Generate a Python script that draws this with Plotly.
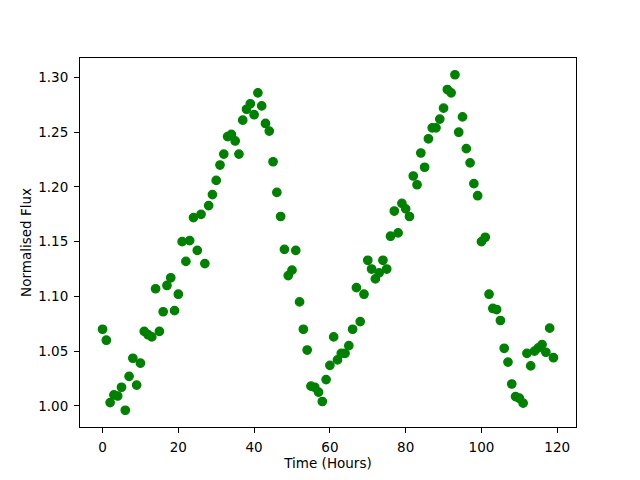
import plotly.graph_objects as go

time_hours = list(range(120))
flux = [
    1.070, 1.060, 1.003, 1.010, 1.009, 1.017, 0.996, 1.027, 1.0435, 1.019,
    1.039, 1.068, 1.065, 1.063, 1.107, 1.068, 1.086, 1.110, 1.117, 1.087,
    1.102, 1.150, 1.132, 1.151, 1.172, 1.142, 1.175, 1.130, 1.183, 1.193,
    1.206, 1.220, 1.230, 1.246, 1.248, 1.242, 1.230, 1.261, 1.271, 1.276,
    1.266, 1.286, 1.274, 1.258, 1.251, 1.223, 1.195, 1.173, 1.143, 1.119,
    1.124, 1.142, 1.095, 1.070, 1.051, 1.018, 1.017, 1.0125, 1.004, 1.024,
    1.037, 1.063, 1.042, 1.048, 1.048, 1.055, 1.070, 1.108, 1.077, 1.102,
    1.133, 1.125, 1.116, 1.1215, 1.133, 1.125, 1.155, 1.178, 1.158, 1.185,
    1.180, 1.173, 1.210, 1.202, 1.231, 1.218, 1.244, 1.254, 1.254, 1.262,
    1.272, 1.289, 1.286, 1.3025, 1.250, 1.264, 1.235, 1.222, 1.203, 1.192,
    1.150, 1.154, 1.102, 1.089, 1.088, 1.078, 1.0526, 1.040, 1.020, 1.0085,
    1.007, 1.0025, 1.048, 1.0365, 1.050, 1.053, 1.056, 1.049, 1.071, 1.044,
]
x_ticks = [0, 20, 40, 60, 80, 100, 120]
y_ticks = [1.00, 1.05, 1.10, 1.15, 1.20, 1.25, 1.30]

fig = go.Figure(
    go.Scatter(
        x=time_hours, y=flux, mode="markers",
        marker=dict(color="#008000", size=8.4, line=dict(color="#008000", width=1.3)),
    )
)

axis_common = dict(
    showline=True, mirror=True, linecolor="black", linewidth=1,
    ticks="outside", ticklen=5, tickwidth=1, tickcolor="black",
    showgrid=False, zeroline=False,
    tickfont=dict(family="DejaVu Sans", size=13.5, color="black"),
    ticklabelstandoff=3,
)

fig.update_xaxes(
    range=[-5.95, 124.95], tickvals=x_ticks, ticktext=[str(t) for t in x_ticks],
    title=dict(text="Time (Hours)", font=dict(family="DejaVu Sans", size=13.5, color="black"), standoff=4),
    **axis_common,
)
fig.update_yaxes(
    range=[0.9807, 1.3178], tickvals=y_ticks, ticktext=[f"{t:.2f}" for t in y_ticks],
    title=dict(text="Normalised Flux", font=dict(family="DejaVu Sans", size=13.5, color="black"), standoff=3),
    **axis_common,
)

# the page body has an 8px default margin, so the margins are shifted to compensate
fig.update_layout(
    width=640, height=480,
    margin=dict(l=72, r=72, t=50, b=61, autoexpand=False),
    plot_bgcolor="white", paper_bgcolor="white",
    showlegend=False,
)

fig.write_html("out.html")
